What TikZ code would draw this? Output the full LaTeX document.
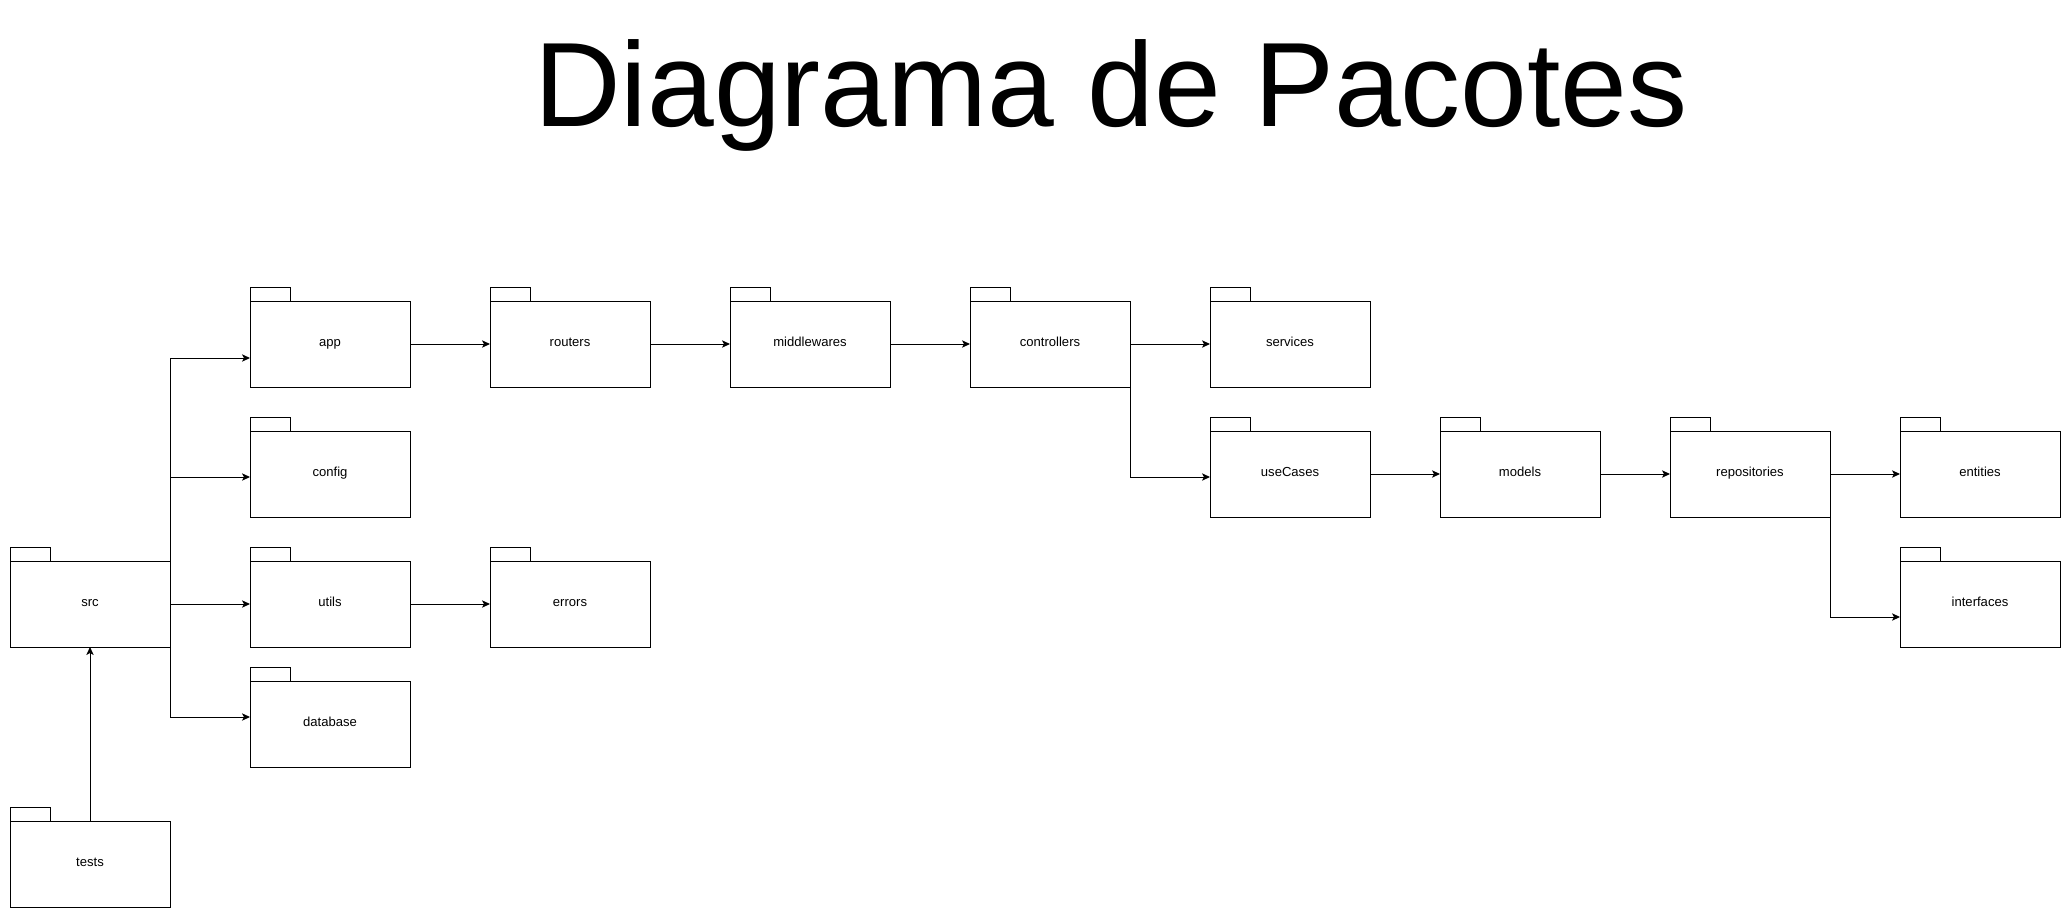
\documentclass[tikz,border=0pt]{standalone}
\usepackage{fontspec}
\setmainfont{Liberation Sans}
\usepackage{tikz}
\usetikzlibrary{arrows.meta}
\usetikzlibrary{positioning}
\usetikzlibrary{calc}

\begin{document}
\begin{tikzpicture}[x=0.75pt, y=-0.75pt, line width=0.75pt,
    tab/.style={draw, anchor=south west, minimum width=30pt, minimum height=10.5pt, inner sep=0pt, outer sep=0pt},
    pkg/.style={draw, rectangle, minimum width=120pt, minimum height=64.5pt, inner sep=0pt, outer sep=0pt,
      text height=5pt, text depth=2pt,
      font=\fontsize{9.8}{11}\selectfont, label={[tab]north west:}},
    dep/.style={-{Stealth[length=6pt, width=5.5pt, inset=1.5pt]}}]

        % Page frame
        \useasboundingbox (0,0) rectangle (2071,918);

        % Title
        \node[anchor=base, inner sep=0pt, font=\fontsize{90}{100}\selectfont] (title) at (1111,126) {Diagrama de Pacotes};

        % Packages: name/x/y of the centre
        \foreach \name/\x/\y in {src/90/604, tests/90/864,
            app/330/344, config/330/474, utils/330/604, database/330/724,
            routers/570/344, errors/570/604, middlewares/810/344,
            controllers/1050/344, services/1290/344, useCases/1290/474,
            models/1520/474, repositories/1750/474,
            entities/1980/474, interfaces/1980/604} {
          \node[pkg] (\name) at (\x,\y) {\name};
        }

        % Straight dependencies
        \foreach \a/\b in {app/routers, routers/middlewares, middlewares/controllers,
            controllers/services, utils/errors, useCases/models,
            models/repositories, repositories/entities, src/utils, tests/src} {
          \draw[dep] (\a) -- (\b);
        }

        % Bent dependencies
        \draw[dep] (src.east) |- ($(app.west)+(0,14)$);
        \draw[dep] (src.east) |- ($(config.west)+(0,3)$);
        \draw[dep] (src.east) |- ($(database.west)+(0,-7)$);
        \draw[dep] (controllers.south east) |- ($(useCases.west)+(0,3)$);
        \draw[dep] (repositories.south east) |- ($(interfaces.west)+(0,13)$);

      \end{tikzpicture}
\end{document}
